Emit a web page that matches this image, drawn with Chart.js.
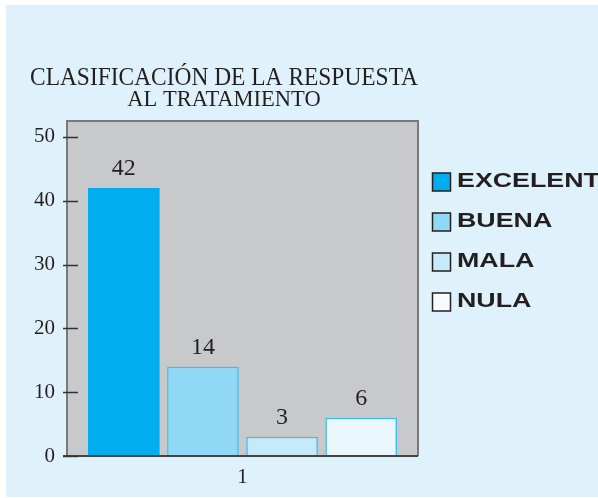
<!DOCTYPE html>
<html>
<head>
<meta charset="utf-8">
<script src="https://cdn.jsdelivr.net/npm/chart.js@4.4.0/dist/chart.umd.min.js"></script>
<style>
  html, body { margin: 0; padding: 0; background: #ffffff; }
  #wrap { width: 598px; height: 498px; }
</style>
</head>
<body>
<div id="wrap"><canvas id="chart" width="598" height="498"></canvas></div>
<script>
// Datos del gráfico
const categorias = ["1"];
const series = ["EXCELENTE", "BUENA", "MALA", "NULA"];
const valores = [42, 14, 3, 6];
const ticksY = [0, 10, 20, 30, 40, 50];
const titulo = "CLASIFICACIÓN DE LA RESPUESTA";
const subtitulo = "AL TRATAMIENTO";

// Colores
const rellenos = ["#00aeef", "#8fd9f7", "#c5ebfb", "#e9f7fd"];
const bordes = ["#00aeef", "#3bbdf0", "#3bbdf0", "#3bbdf0"];
const cajasLeyenda = ["#00aeef", "#8fd9f7", "#c5ebfb", "#f6fcfe"];
const tinta = "#231f20";

// Fondo, marco del área, marcas del eje, etiquetas y leyenda
const decoracion = {
    id: "decoracion",
    beforeDraw(chart) {
        const { ctx, chartArea: a } = chart;
        ctx.save();
        ctx.fillStyle = "#dff2fc";
        ctx.fillRect(6, 5, chart.width - 6, 492);
        ctx.fillStyle = "#c8c9cb";
        ctx.fillRect(a.left, a.top, a.right - a.left, a.bottom - a.top);
        ctx.restore();
    },
    afterDatasetsDraw(chart) {
        const { ctx, chartArea: a } = chart;
        const yScale = chart.scales.y;
        ctx.save();
        // marco
        ctx.lineWidth = 2;
        ctx.strokeStyle = "#7a7a7a";
        ctx.beginPath();
        ctx.moveTo(a.left, a.bottom);
        ctx.lineTo(a.left, a.top);
        ctx.lineTo(a.right, a.top);
        ctx.lineTo(a.right, a.bottom);
        ctx.stroke();
        ctx.strokeStyle = "#444444";
        ctx.beginPath();
        ctx.moveTo(a.left - 4, a.bottom);
        ctx.lineTo(a.right, a.bottom);
        ctx.stroke();
        // marcas del eje Y
        ctx.lineWidth = 1.5;
        ctx.strokeStyle = "#333333";
        ticksY.forEach(v => {
            const y = Math.round(yScale.getPixelForValue(v)) + 0.5;
            ctx.beginPath();
            ctx.moveTo(a.left - 4, y);
            ctx.lineTo(a.left + 11, y);
            ctx.stroke();
        });
        // valores sobre las barras
        ctx.fillStyle = tinta;
        ctx.font = "24px 'Liberation Serif'";
        ctx.textAlign = "center";
        ctx.textBaseline = "middle";
        chart.data.datasets.forEach((ds, i) => {
            const bar = chart.getDatasetMeta(i).data[0];
            ctx.fillText(String(ds.data[0]), bar.x, bar.y - 19);
        });
        ctx.restore();
    },
    afterDraw(chart) {
        const { ctx } = chart;
        ctx.save();
        ctx.font = "bold 20px 'Liberation Sans'";
        ctx.textBaseline = "middle";
        ctx.textAlign = "left";
        chart.data.datasets.forEach((ds, i) => {
            const yc = 181 + i * 40;
            ctx.fillStyle = cajasLeyenda[i];
            ctx.fillRect(432.5, yc - 8, 18, 18);
            ctx.lineWidth = 1.5;
            ctx.strokeStyle = tinta;
            ctx.strokeRect(432.5, yc - 8, 18, 18);
            ctx.fillStyle = tinta;
            ctx.save();
            ctx.translate(457, yc);
            ctx.scale(1.34, 1);
            ctx.fillText(ds.label, 0, 0);
            ctx.restore();
        });
        ctx.restore();
    }
};

const canvas = document.getElementById("chart");

new Chart(canvas.getContext("2d"), {
    type: "bar",
    data: {
        labels: categorias,
        datasets: series.map((nombre, i) => ({
            label: nombre,
            data: [valores[i]],
            backgroundColor: rellenos[i],
            borderColor: bordes[i],
            borderWidth: i === 0 ? 0 : 1.5,
            categoryPercentage: 0.9017,
            barPercentage: 0.905,
        })),
    },
    options: {
        responsive: false,
        animation: false,
        layout: { padding: { left: 30, right: 180, top: 0, bottom: 8 } },
        plugins: {
            legend: { display: false },
            tooltip: { enabled: false },
            title: {
                display: true,
                text: titulo,
                color: tinta,
                font: { family: "'Liberation Serif'", size: 26, weight: "normal", lineHeight: 0.95 },
                padding: { top: 65.5, bottom: 0 },
            },
            subtitle: {
                display: true,
                text: subtitulo,
                color: tinta,
                font: { family: "'Liberation Serif'", size: 22.5, weight: "normal", lineHeight: 0.9 },
                padding: { top: 0, bottom: 10.5 },
            },
        },
        scales: {
            x: {
                grid: { display: false, drawTicks: false },
                border: { display: false },
                afterFit: scale => { scale.height = 34; },
                ticks: { color: tinta, padding: 9, font: { family: "'Liberation Serif'", size: 21 } },
            },
            y: {
                min: 0,
                max: 52.5,
                grid: { display: false, drawTicks: false },
                border: { display: false },
                afterBuildTicks: scale => { scale.ticks = ticksY.map(v => ({ value: v })); },
                afterFit: scale => { scale.width = 37; },
                ticks: { color: tinta, padding: 12, font: { family: "'Liberation Serif'", size: 21 } },
            },
        },
    },
    plugins: [decoracion],
});
</script>
</body>
</html>
